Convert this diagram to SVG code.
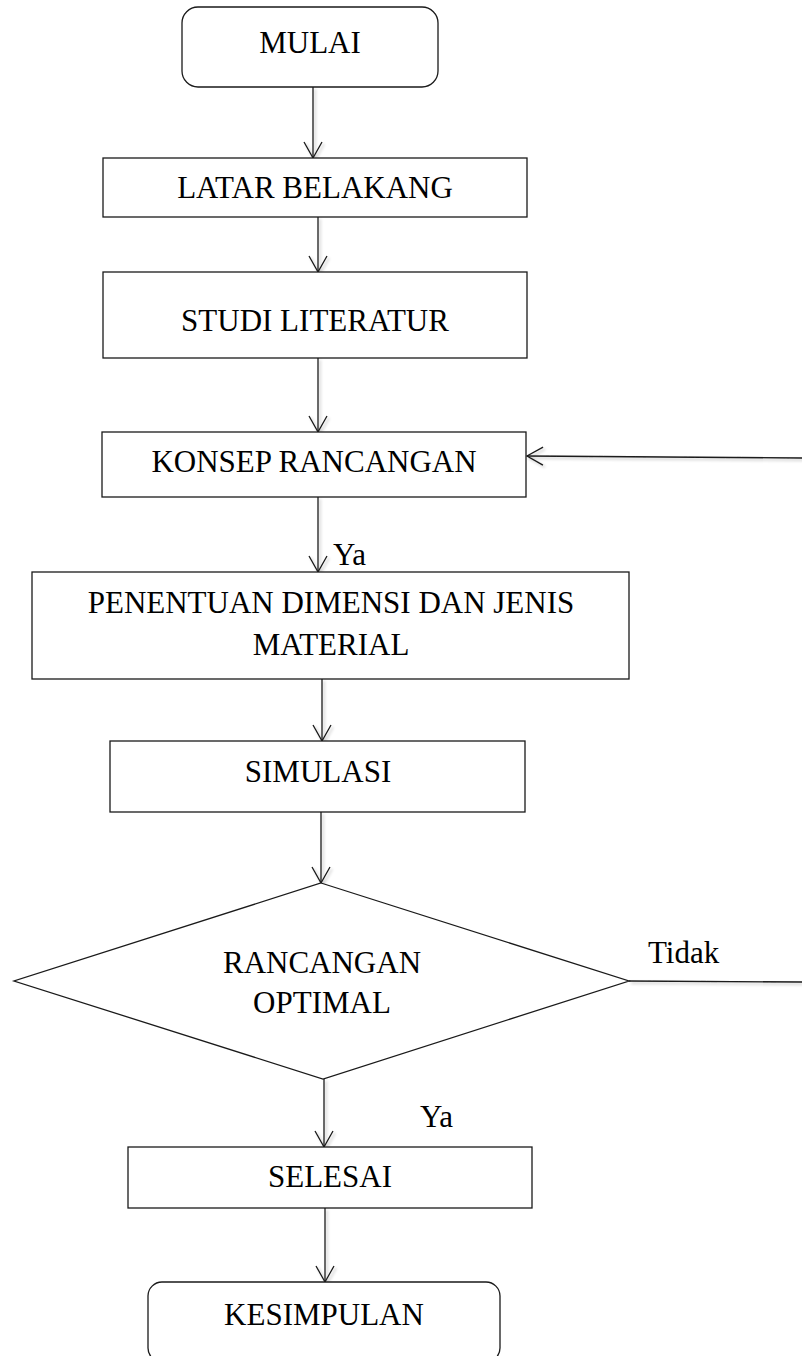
<svg xmlns="http://www.w3.org/2000/svg" width="802" height="1356" viewBox="0 0 802 1356">
<style>
.box{fill:#fff;stroke:#1a1a1a;stroke-width:1.3}
.t{font-family:"Liberation Serif","Times New Roman",serif;font-size:31px;fill:#000;text-anchor:middle}
.l{font-family:"Liberation Serif","Times New Roman",serif;font-size:31px;fill:#000}
.c{fill:none;stroke:#1a1a1a;stroke-width:1.3}
</style>
<defs>
<marker id="arr" markerUnits="userSpaceOnUse" markerWidth="20" markerHeight="22" refX="17" refY="10" orient="auto">
<path d="M1,1 L17,10 L1,19" fill="none" stroke="#1a1a1a" stroke-width="1.3"/>
</marker>
<filter id="sh" x="-10%" y="-10%" width="120%" height="120%">
<feGaussianBlur in="SourceAlpha" stdDeviation="1.5"/>
<feOffset dx="1.5" dy="2" result="b"/>
<feComponentTransfer><feFuncA type="linear" slope="0.25"/></feComponentTransfer>
<feMerge><feMergeNode/><feMergeNode in="SourceGraphic"/></feMerge>
</filter>
</defs>
<rect width="802" height="1356" fill="#fff"/>
<g id="connectors">
<g filter="url(#sh)">
<line class="c" x1="313" y1="87" x2="313" y2="158" marker-end="url(#arr)"/>
<line class="c" x1="318" y1="217" x2="318" y2="272" marker-end="url(#arr)"/>
<line class="c" x1="318" y1="358" x2="318" y2="432" marker-end="url(#arr)"/>
<line class="c" x1="318" y1="497" x2="318" y2="572" marker-end="url(#arr)"/>
<line class="c" x1="322" y1="679" x2="322" y2="741" marker-end="url(#arr)"/>
<line class="c" x1="321" y1="812" x2="321" y2="883" marker-end="url(#arr)"/>
<line class="c" x1="324" y1="1079" x2="324" y2="1147" marker-end="url(#arr)"/>
<line class="c" x1="325" y1="1208" x2="325" y2="1282" marker-end="url(#arr)"/>
<line class="c" x1="802" y1="458" x2="527" y2="456" marker-end="url(#arr)"/>
<line class="c" x1="629" y1="981" x2="802" y2="982"/>
</g>
<text class="l" x="333" y="565">Ya</text>
<text class="l" x="420" y="1127">Ya</text>
<text class="l" x="648" y="963">Tidak</text>
</g>
<g id="mulai">
<rect class="box" x="182" y="7" width="256" height="80" rx="16"/>
<text class="t" x="310" y="53">MULAI</text>
</g>
<g id="latar">
<rect class="box" x="103" y="158" width="424" height="59"/>
<text class="t" x="315" y="198">LATAR BELAKANG</text>
</g>
<g id="studi">
<rect class="box" x="103" y="272" width="424" height="86"/>
<text class="t" x="315" y="331">STUDI LITERATUR</text>
</g>
<g id="konsep">
<rect class="box" x="102" y="432" width="424" height="65"/>
<text class="t" x="314" y="472">KONSEP RANCANGAN</text>
</g>
<g id="penentuan">
<rect class="box" x="32" y="572" width="597" height="107"/>
<text class="t" x="331" y="613">PENENTUAN DIMENSI DAN JENIS</text>
<text class="t" x="331" y="655">MATERIAL</text>
</g>
<g id="simulasi">
<rect class="box" x="110" y="741" width="415" height="71"/>
<text class="t" x="318" y="782">SIMULASI</text>
</g>
<g id="rancangan">
<polygon class="box" points="321,883 629,981 323,1079 14,981"/>
<text class="t" x="322" y="973">RANCANGAN</text>
<text class="t" x="322" y="1013">OPTIMAL</text>
</g>
<g id="selesai">
<rect class="box" x="128" y="1147" width="404" height="61"/>
<text class="t" x="330" y="1187">SELESAI</text>
</g>
<g id="kesimpulan">
<rect class="box" x="148" y="1282" width="352" height="80" rx="14"/>
<text class="t" x="324" y="1325">KESIMPULAN</text>
</g>
</svg>
